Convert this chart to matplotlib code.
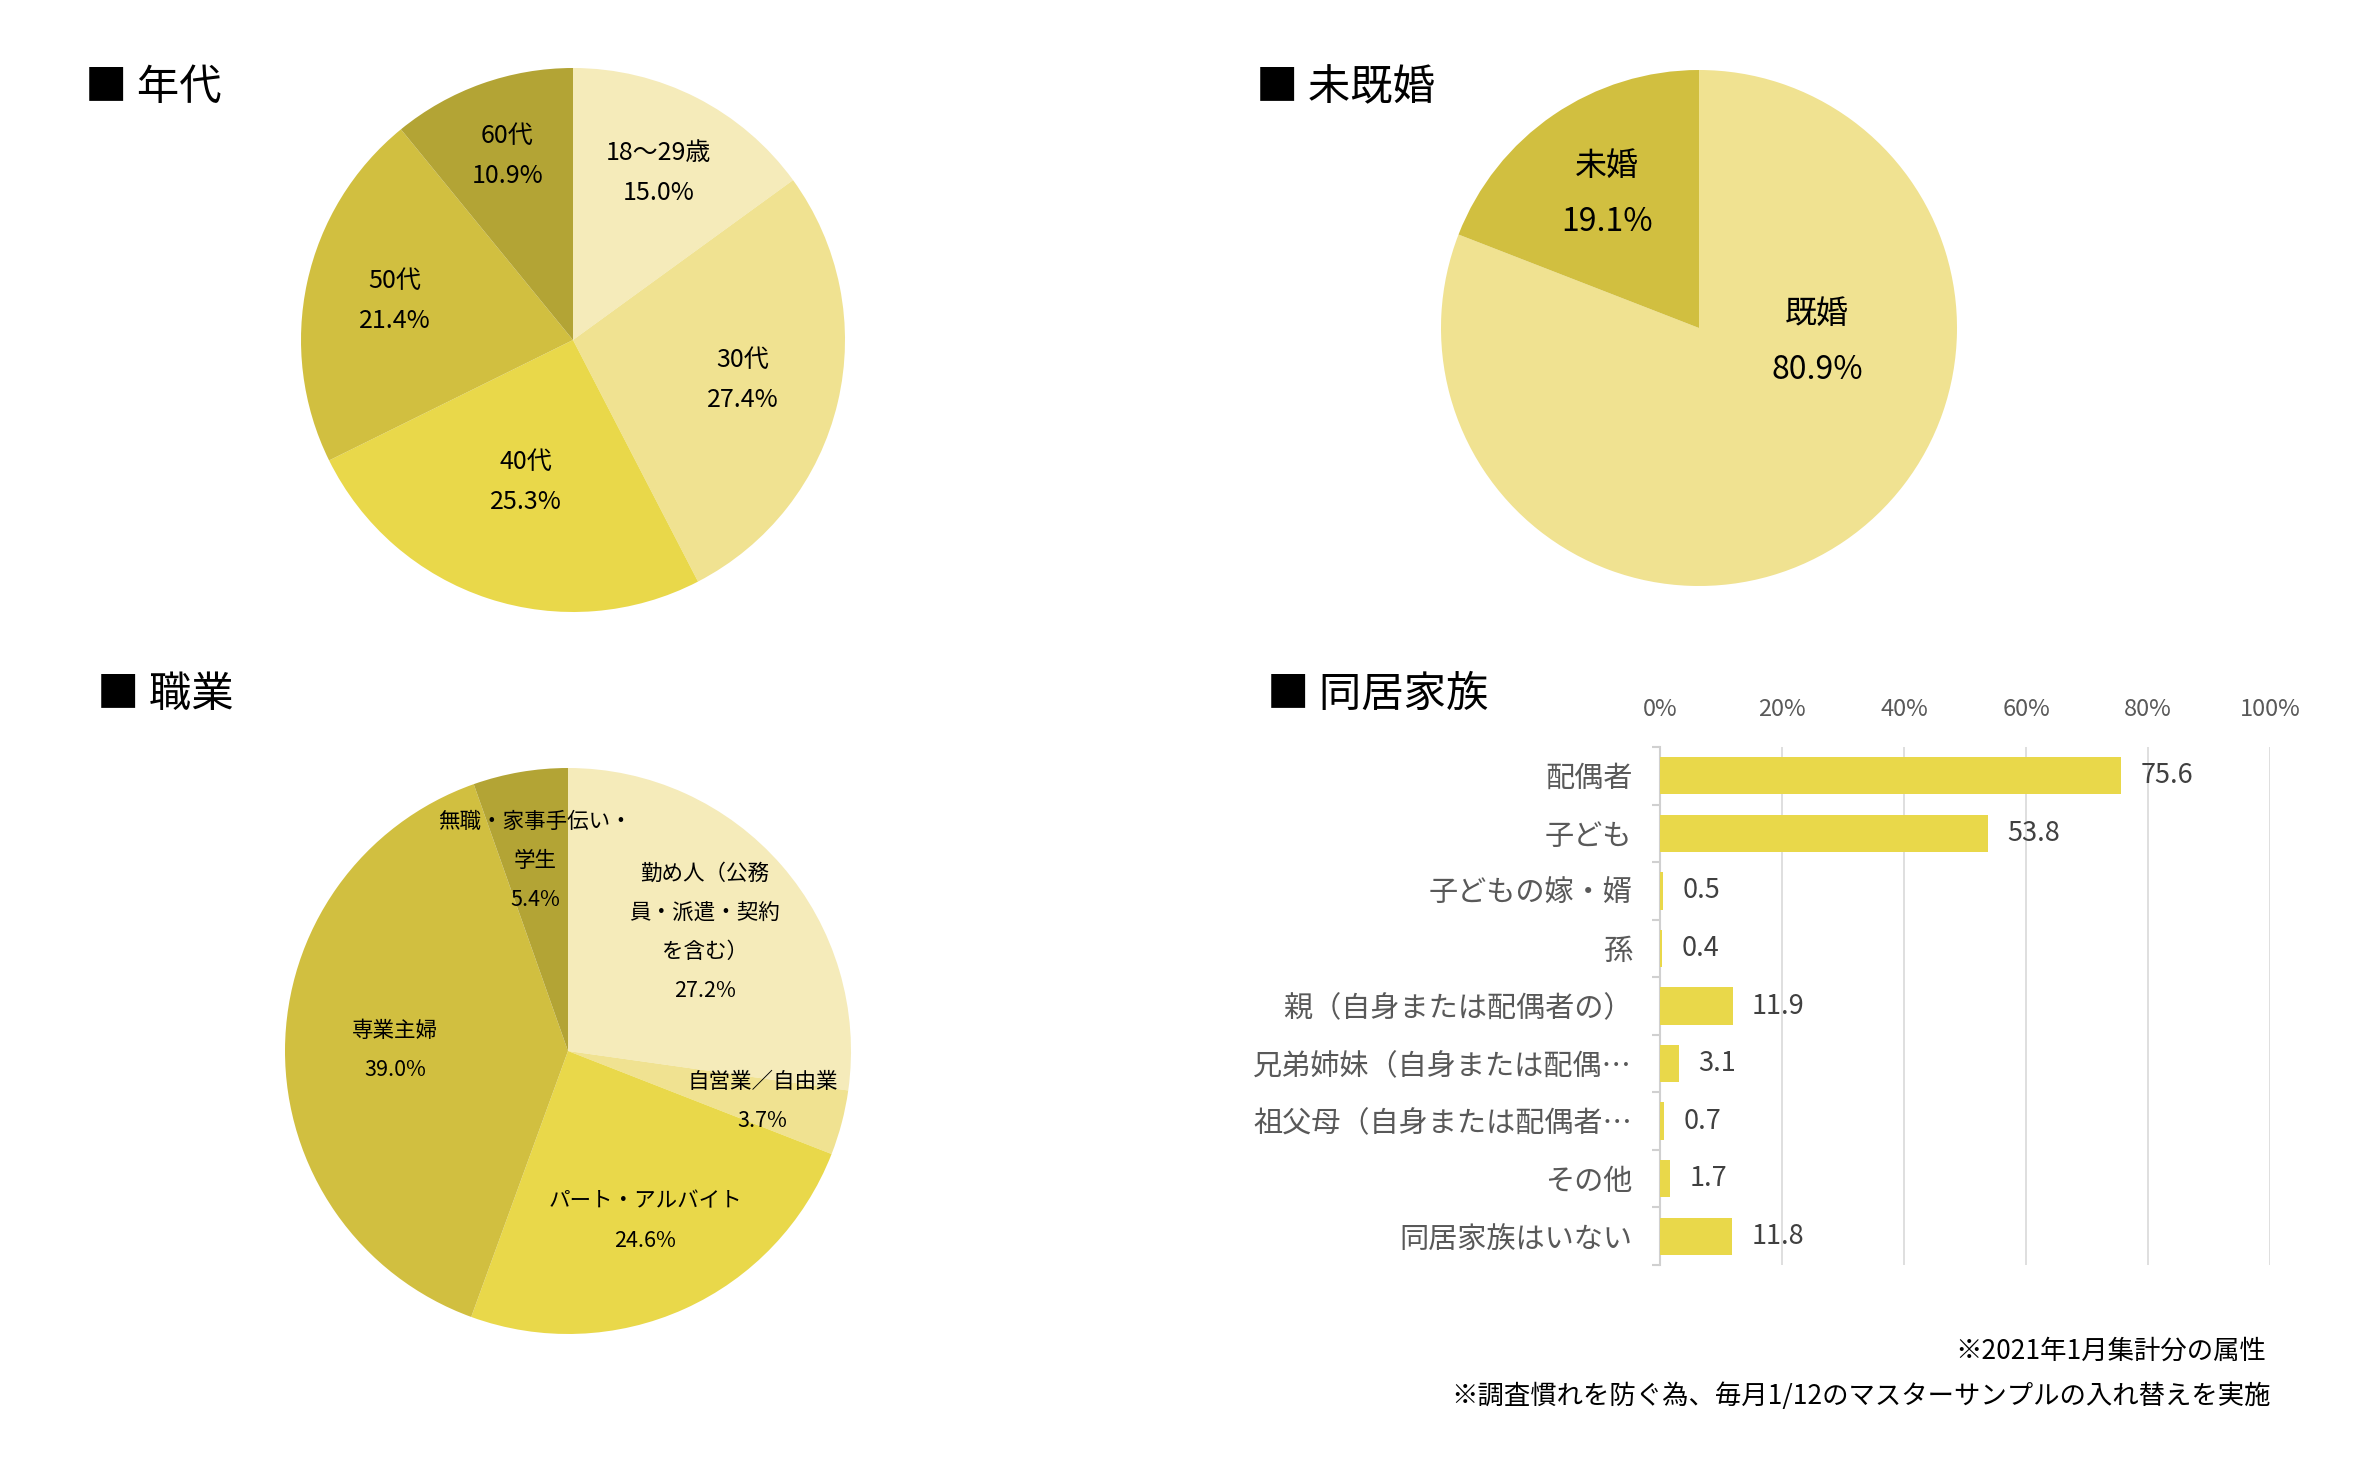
import matplotlib
matplotlib.use('Agg')
import matplotlib.pyplot as plt
import numpy as np

plt.rcParams['font.family'] = ['Noto Sans CJK JP', 'DejaVu Sans']

# ---------------- data ----------------
age_labels = ['18～29歳', '30代', '40代', '50代', '60代']
age_values = [15.0, 27.4, 25.3, 21.4, 10.9]

marital_labels = ['既婚', '未婚']
marital_values = [80.9, 19.1]

job_labels = ['勤め人（公務\n員・派遣・契約\nを含む）', '自営業／自由業', 'パート・アルバイト',
              '専業主婦', '無職・家事手伝い・\n学生']
job_values = [27.2, 3.7, 24.6, 39.0, 5.4]

family_labels = ['配偶者', '子ども', '子どもの嫁・婿', '孫', '親（自身または配偶者の）',
                 '兄弟姉妹（自身または配偶…', '祖父母（自身または配偶者…', 'その他', '同居家族はいない']
family_values = [75.6, 53.8, 0.5, 0.4, 11.9, 3.1, 0.7, 1.7, 11.8]

x_ticks = [0, 20, 40, 60, 80, 100]

# ---------------- style ----------------
C_LIGHT = '#F5EBBA'
C_PALE = '#F0E291'
C_MID = '#E9D84A'
C_DARK = '#D1BF40'
C_DARKER = '#B3A435'

W, H, DPI = 2378, 1478, 100
fig = plt.figure(figsize=(W / DPI, H / DPI), dpi=DPI)
fig.patch.set_facecolor('white')


def px_axes(left, top, width, height):
    return fig.add_axes([left / W, 1 - (top + height) / H, width / W, height / H])


def draw_pie(cx, cy, r, values, labels, colors, dists, fs, ls, angle_override=None):
    ax = px_axes(cx - r, cy - r, 2 * r, 2 * r)
    wedges, _ = ax.pie(values, colors=colors, startangle=90, counterclock=False,
                       radius=1, wedgeprops=dict(linewidth=0))
    ax.set_xlim(-1, 1)
    ax.set_ylim(-1, 1)
    ax.set_aspect('equal')
    ax.axis('off')
    for i, (w, lab, v, d) in enumerate(zip(wedges, labels, values, dists)):
        th = np.deg2rad((w.theta1 + w.theta2) / 2)
        if angle_override and i in angle_override:
            th = np.deg2rad(angle_override[i])
        ax.text(d * np.cos(th), d * np.sin(th), f'{lab}\n{v:.1f}%', ha='center', va='center',
                fontsize=fs, linespacing=ls, color='black')
    return ax


# Titles
title_fs = 30.5
fig.text(85 / W, 1 - 88 / H, '■ 年代', fontsize=title_fs, va='center', ha='left')
fig.text(1256 / W, 1 - 88 / H, '■ 未既婚', fontsize=title_fs, va='center', ha='left')
fig.text(97 / W, 1 - 695 / H, '■ 職業', fontsize=title_fs, va='center', ha='left')
fig.text(1267 / W, 1 - 695 / H, '■ 同居家族', fontsize=title_fs, va='center', ha='left')

# Pie 1: age
draw_pie(573, 340, 272, age_values, age_labels,
         [C_LIGHT, C_PALE, C_MID, C_DARK, C_DARKER],
         [0.69, 0.64, 0.55, 0.67, 0.72], fs=18, ls=1.7)

# Pie 2: marital
draw_pie(1699, 328, 258, marital_values, marital_labels,
         [C_PALE, C_DARK], [0.46, 0.63], fs=23, ls=1.95, angle_override={0: -6.6})

# Pie 3: job
draw_pie(568, 1051, 283, job_values, job_labels,
         [C_LIGHT, C_PALE, C_MID, C_DARK, C_DARKER],
         [0.64, 0.71, 0.66, 0.61, 0.68], fs=15.5, ls=2.0)

# Bar chart
ax = px_axes(1660, 747, 610, 518)
n = len(family_values)
y = np.arange(n)
ax.barh(y, family_values, height=0.65, color=C_MID, zorder=3)
ax.set_xlim(0, 100)
ax.set_ylim(n - 0.5, -0.5)
ax.set_xticks(x_ticks)
ax.set_xticklabels([f'{t}%' for t in x_ticks])
ax.xaxis.tick_top()
ax.tick_params(axis='x', length=0, pad=19, labelsize=17, labelcolor='#595959')
ax.grid(axis='x', color='#D9D9D9', linewidth=1.2, zorder=0)
ax.set_axisbelow(True)
for s in ['top', 'right', 'bottom']:
    ax.spines[s].set_visible(False)
ax.spines['left'].set_color('#D0D0D0')
ax.spines['left'].set_linewidth(1.5)
ax.set_yticks(y)
ax.set_yticklabels(family_labels)
ax.tick_params(axis='y', which='major', length=0, pad=20, labelsize=21, labelcolor='#595959')
ax.set_yticks(np.arange(n + 1) - 0.5, minor=True)
ax.tick_params(axis='y', which='minor', length=6, width=1.5, color='#D0D0D0', direction='out')
for i, v in enumerate(family_values):
    ax.annotate(f'{v}', (v, i), xytext=(14, 0), textcoords='offset points',
                va='center', ha='left', fontsize=19.5, color='#404040')

# Footnotes
fig.text(2266 / W, 1 - 1351 / H, '※2021年1月集計分の属性', fontsize=19, ha='right', va='center')
fig.text(2271 / W, 1 - 1396 / H, '※調査慣れを防ぐ為、毎月1/12のマスターサンプルの入れ替えを実施',
         fontsize=19, ha='right', va='center')

fig.savefig('out.png', dpi=DPI, facecolor='white')
